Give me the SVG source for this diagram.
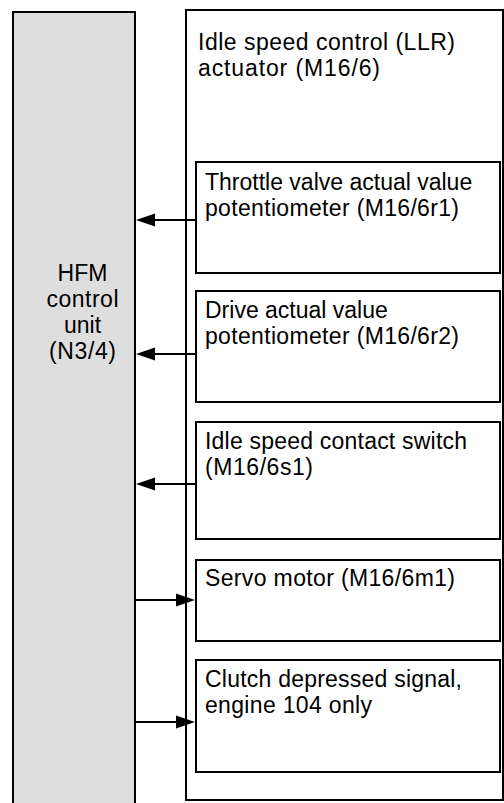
<svg xmlns="http://www.w3.org/2000/svg" width="504" height="803" viewBox="0 0 504 803">
  <style>
    .box { fill: #ffffff; stroke: #000000; stroke-width: 2; }
    .ecu { fill: #dedede; stroke: #000000; stroke-width: 2; }
    .lbl { font-family: "Liberation Sans", Arial, sans-serif; font-size: 23px; fill: #000000; }
    .mid { text-anchor: middle; }
    .wire { stroke: #000000; stroke-width: 2; fill: none; marker-end: url(#head); }
  </style>
  <defs>
    <marker id="head" markerUnits="userSpaceOnUse" markerWidth="20" markerHeight="14" refX="0" refY="7" orient="auto" overflow="visible">
      <path d="M0,0.5 L19,7 L0,13.5 Z" fill="#000000"/>
    </marker>
  </defs>

  <rect width="504" height="803" fill="#ffffff"/>

  <!-- engine control unit -->
  <g id="hfm-unit">
    <rect class="ecu" x="13" y="12" width="122" height="800"/>
    <text class="lbl mid" x="82.5" y="281">HFM</text>
    <text class="lbl mid" x="82.5" y="307" textLength="72" lengthAdjust="spacing">control</text>
    <text class="lbl mid" x="82.5" y="333">unit</text>
    <text class="lbl mid" x="82.5" y="359" textLength="67" lengthAdjust="spacing">(N3/4)</text>
  </g>

  <!-- idle speed actuator housing -->
  <g id="llr-actuator">
    <rect class="box" x="186" y="10" width="317" height="790"/>
    <text class="lbl" x="198" y="50" textLength="257" lengthAdjust="spacing">Idle speed control (LLR)</text>
    <text class="lbl" x="198" y="76" textLength="182" lengthAdjust="spacing">actuator (M16/6)</text>
  </g>

  <g id="throttle-pot">
    <rect class="box" x="196" y="162" width="304" height="111"/>
    <text class="lbl" x="205" y="190">Throttle valve actual value</text>
    <text class="lbl" x="205" y="216" textLength="254" lengthAdjust="spacing">potentiometer (M16/6r1)</text>
  </g>

  <g id="drive-pot">
    <rect class="box" x="196" y="291" width="304" height="111"/>
    <text class="lbl" x="205" y="318">Drive actual value</text>
    <text class="lbl" x="205" y="344" textLength="254" lengthAdjust="spacing">potentiometer (M16/6r2)</text>
  </g>

  <g id="idle-switch">
    <rect class="box" x="196" y="422" width="304" height="117"/>
    <text class="lbl" x="205" y="449" textLength="262" lengthAdjust="spacing">Idle speed contact switch</text>
    <text class="lbl" x="205" y="475" textLength="108" lengthAdjust="spacing">(M16/6s1)</text>
  </g>

  <g id="servo-motor">
    <rect class="box" x="196" y="560" width="304" height="81"/>
    <text class="lbl" x="205" y="586" textLength="250" lengthAdjust="spacing">Servo motor (M16/6m1)</text>
  </g>

  <g id="clutch-signal">
    <rect class="box" x="196" y="660" width="304" height="112"/>
    <text class="lbl" x="205" y="687" textLength="257" lengthAdjust="spacing">Clutch depressed signal,</text>
    <text class="lbl" x="205" y="713" textLength="167" lengthAdjust="spacing">engine 104 only</text>
  </g>

  <!-- signal lines -->
  <g id="connectors">
    <line class="wire" x1="196" y1="220" x2="155" y2="220"/>
    <line class="wire" x1="196" y1="354" x2="155" y2="354"/>
    <line class="wire" x1="196" y1="484" x2="155" y2="484"/>
    <line class="wire" x1="135" y1="600" x2="176" y2="600"/>
    <line class="wire" x1="135" y1="722" x2="176" y2="722"/>
  </g>
</svg>
